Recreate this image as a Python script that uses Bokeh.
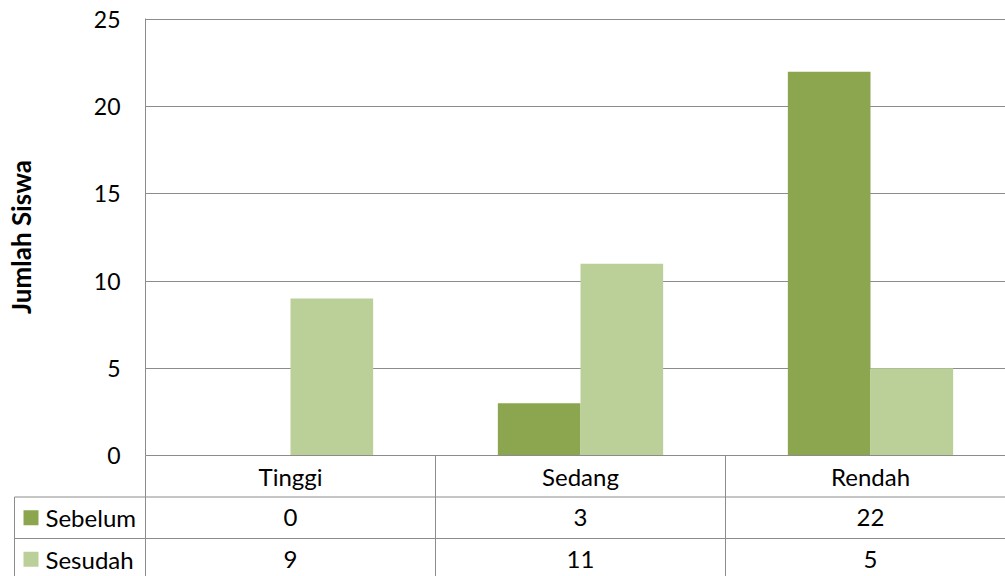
from bokeh.plotting import figure
from bokeh.models import Range1d, FixedTicker
from bokeh.core.properties import value
from bokeh.embed import file_html
from bokeh.resources import INLINE

# ---- data ----
categories = ["Tinggi", "Sedang", "Rendah"]
series_names = ["Sebelum", "Sesudah"]
sebelum = [0, 3, 22]
sesudah = [9, 11, 5]
y_ticks = [0, 5, 10, 15, 20, 25]
colors = ["#8BA64F", "#BBCF99"]

FONT = "Lato"
FS = "23px"
FS_T = "24px"
GRID = "#8C8C8C"

n = len(categories)
centers = [i + 0.5 for i in range(n)]
bar_w = 0.285
x_end = 860 / 290.0          # frame 145..1005 px, 290 px per category
row_px = 41.5                # table row height in px
frame_h = 437

p = figure(width=1005, height=576, x_range=Range1d(0, x_end), y_range=Range1d(0, 25.06),
           output_backend="svg", toolbar_location=None,
           min_border_left=145, min_border_right=0, min_border_top=18, min_border_bottom=121)
p.outline_line_color = None
p.background_fill_color = "white"
p.border_fill_color = "white"

# table rows: y=3 at axis, rows 3..2 (categories), 2..1 (Sebelum), 1..0 (Sesudah)
p.extra_y_ranges = {"table": Range1d(3, 3 + frame_h / row_px)}

p.vbar(x=[c - bar_w / 2 for c in centers], top=sebelum, width=bar_w, bottom=0,
       fill_color=colors[0], line_color=None)
p.vbar(x=[c + bar_w / 2 for c in centers], top=sesudah, width=bar_w, bottom=0,
       fill_color=colors[1], line_color=None)

p.xgrid.visible = False
p.ygrid.ticker = FixedTicker(ticks=y_ticks)
p.ygrid.grid_line_color = GRID
p.ygrid.grid_line_width = 1

ya = p.yaxis[0]
ya.ticker = FixedTicker(ticks=y_ticks)
ya.axis_line_color = GRID
ya.major_tick_out = 0
ya.major_tick_in = 0
ya.minor_tick_out = 0
ya.minor_tick_in = 0
ya.major_label_text_font = FONT
ya.major_label_text_font_size = FS
ya.major_label_text_color = "black"
ya.major_label_standoff = 25
ya.axis_label = "Jumlah Siswa"
ya.axis_label_text_font = FONT
ya.axis_label_text_font_size = "26px"
ya.axis_label_text_font_style = "bold"
ya.axis_label_text_color = "black"
ya.axis_label_standoff = 54

xa = p.xaxis[0]
xa.ticker = FixedTicker(ticks=centers)
overrides = {}
for c, name in zip(centers, categories):
    overrides[c] = name
    overrides[str(c)] = name
xa.major_label_overrides = overrides
xa.axis_line_color = GRID
xa.major_tick_out = 0
xa.major_tick_in = 0
xa.minor_tick_out = 0
xa.minor_tick_in = 0
xa.major_label_text_font = FONT
xa.major_label_text_font_size = FS_T
xa.major_label_text_color = "black"
xa.major_label_standoff = 6

# ---- data table below the axis ----
left_edge = -131 / 290.0
n_rows = len(series_names)
row_y = [n_rows - r - 0.5 for r in range(n_rows)]          # 1.5, 0.5
bounds_x = list(range(n + 1))

# vertical cell borders (category columns through all rows)
p.segment(x0=bounds_x, y0=[n_rows + 1] * (n + 1), x1=bounds_x, y1=[-1] * (n + 1),
          y_range_name="table", line_color=GRID, line_width=1, level="overlay")
# legend column left border
p.segment(x0=[left_edge], y0=[n_rows], x1=[left_edge], y1=[-1],
          y_range_name="table", line_color=GRID, line_width=1, level="overlay")
# horizontal row borders
hy = list(range(n_rows, 0, -1))
p.segment(x0=[left_edge] * len(hy), y0=hy, x1=[n + 1] * len(hy), y1=hy,
          y_range_name="table", line_color=GRID, line_width=1, level="overlay")

# legend keys (15px squares drawn as thick butt-capped strokes)
k0 = left_edge + 9 / 290.0
k1 = left_edge + 24 / 290.0
p.segment(x0=[k0] * n_rows, y0=row_y, x1=[k1] * n_rows, y1=row_y,
          line_color=colors, line_width=15, line_cap="butt",
          y_range_name="table", level="overlay")
p.text(x=[left_edge + 31 / 290.0] * n_rows, y=row_y, text=series_names,
       text_font=value(FONT), text_font_size=FS_T, text_align="left", text_baseline="middle",
       text_color="black", y_range_name="table", level="overlay")
for vals, yy in zip([sebelum, sesudah], row_y):
    p.text(x=centers, y=[yy] * n, text=[str(v) for v in vals],
           text_font=value(FONT), text_font_size=FS_T, text_align="center", text_baseline="middle",
           text_color="black", y_range_name="table", level="overlay")

open("out.html", "w").write(file_html(p, INLINE))
